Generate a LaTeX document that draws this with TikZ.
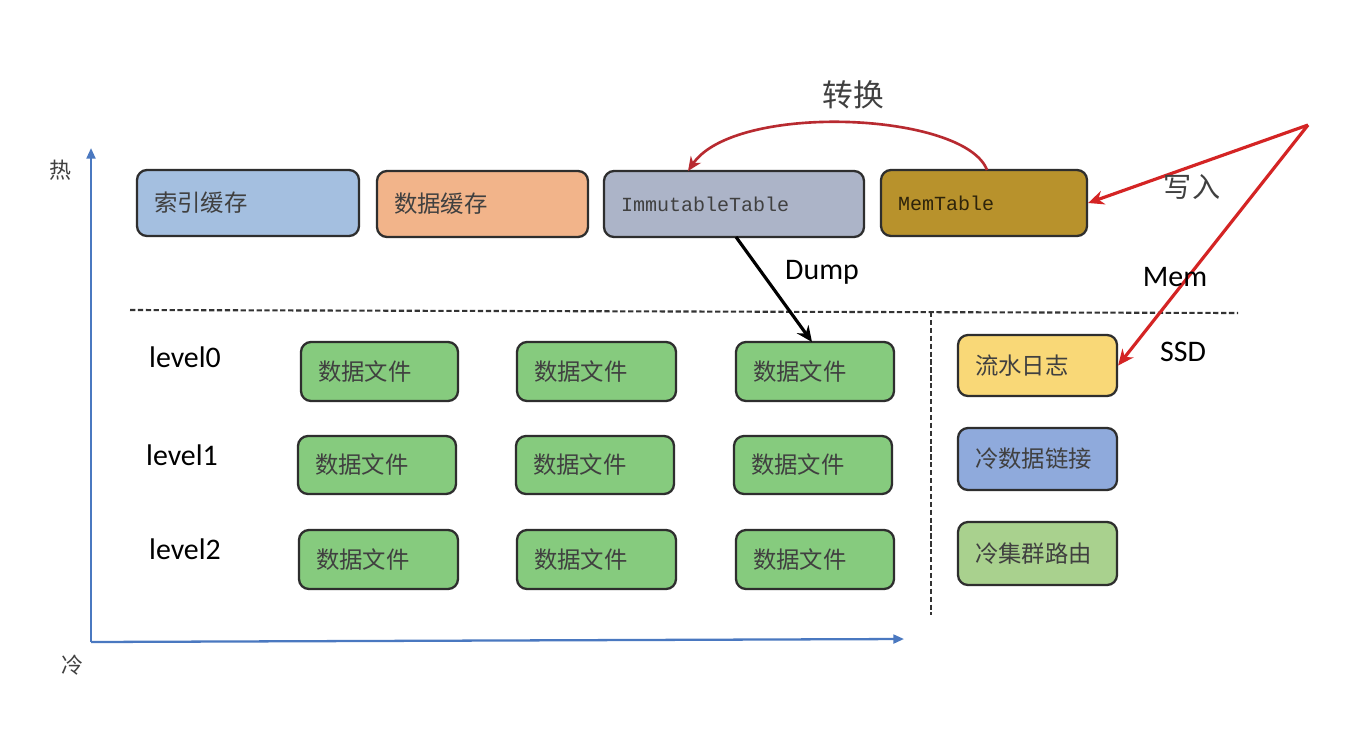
\documentclass[tikz,border=0pt]{standalone}
\usepackage{fontspec}
\newfontfamily\cjk{Noto Sans CJK SC}
\newfontfamily\calib{Carlito}
\newfontfamily\monof{Liberation Mono}
\usetikzlibrary{arrows.meta}
\definecolor{idxblue}{HTML}{A4BFE0}
\definecolor{dataorange}{HTML}{F2B48A}
\definecolor{immgray}{HTML}{ACB4C8}
\definecolor{memgold}{HTML}{B8922C}
\definecolor{filegreen}{HTML}{86CB7E}
\definecolor{logyellow}{HTML}{F9D877}
\definecolor{linkblue}{HTML}{8FAADC}
\definecolor{routegreen}{HTML}{A9D18E}
\definecolor{boxborder}{HTML}{2E2E2E}
\definecolor{axisblue}{HTML}{4A78C0}
\definecolor{arrowred}{HTML}{D42424}
\definecolor{curvered}{HTML}{B82A30}
\definecolor{txtgray}{HTML}{404040}
\newcommand\bx[8]{%
  \pgfmathsetmacro\bw{(#4-#2)*0.02}%
  \pgfmathsetmacro\bh{(#5-#3)*0.02}%
  \pgfmathsetmacro\tw{(#4-#2-34)*0.02}%
  \node[boxstyle, fill=#6, minimum width=\bw cm, minimum height=\bh cm, text width=\tw cm, #8] (#1) at ({(#2+#4)/2},{(#3+#5)/2}) {#7};}
\tikzset{
  boxstyle/.style={draw=boxborder, line width=1.3pt, rounded corners=0.2cm, inner xsep=0.34cm, inner ysep=0pt, align=left, text=txtgray, font=\cjk\fontsize{13.3}{16}\selectfont},
  monotext/.style={font=\monof\fontsize{11.4}{14}\selectfont},
  sanslabel/.style={font=\calib\fontsize{17}{20}\selectfont, text=black},
  cjklabel/.style={font=\cjk\fontsize{16}{19}\selectfont, text=txtgray},
  axislabel/.style={font=\cjk\fontsize{12.5}{15}\selectfont, text=txtgray},
  axisline/.style={draw=axisblue, line width=1.3pt, -{Triangle[length=6pt,width=5pt]}},
  redarrow/.style={draw=arrowred, line width=1.8pt, -{Stealth[length=9pt,width=8pt]}},
  sepline/.style={draw=black!80, line width=1.2pt, dash pattern=on 3pt off 1.5pt}
}
\begin{document}
\begin{tikzpicture}[x=0.02cm,y=-0.02cm]
\useasboundingbox (0,0) rectangle (1368,734);
\fill[white] (0,0) rectangle (1368,734);

% axes
\coordinate (origin) at (91,642);
\coordinate (ytop) at (91,148);
\coordinate (xend) at (904,639);
\draw[axisline] (origin) -- (ytop);
\draw[axisline] (origin) -- (xend);
\node[axislabel] (hot) at (60,170) {热};
\node[axislabel] (cold) at (72,665) {冷};

% separators
\coordinate (hsepL) at (130,310);
\coordinate (hsepR) at (1238,313);
\coordinate (vsepT) at (931,312);
\coordinate (vsepB) at (931,615);
\draw[sepline] (hsepL) -- (hsepR);
\draw[sepline] (vsepT) -- (vsepB);

% top boxes
\bx{idx}{137}{170}{359}{236}{idxblue}{索引缓存}{}
\bx{dcache}{377}{171}{588}{237}{dataorange}{数据缓存}{}
\bx{imm}{604}{171}{864}{237}{immgray}{ImmutableTable}{monotext}
\bx{mem}{881}{170}{1087}{236}{memgold}{MemTable}{monotext, text=black!75!memgold}

% level labels
\node[sanslabel] (l0) at (185,357) {level0};
\node[sanslabel] (l1) at (182,455) {level1};
\node[sanslabel] (l2) at (185,549) {level2};

% data files
\bx{f00}{301}{342}{458}{401}{filegreen}{数据文件}{}
\bx{f01}{517}{342}{676}{401}{filegreen}{数据文件}{}
\bx{f02}{736}{342}{894}{401}{filegreen}{数据文件}{}
\bx{f10}{298}{436}{456}{494}{filegreen}{数据文件}{}
\bx{f11}{516}{436}{674}{494}{filegreen}{数据文件}{}
\bx{f12}{734}{436}{892}{494}{filegreen}{数据文件}{}
\bx{f20}{299}{530}{458}{589}{filegreen}{数据文件}{}
\bx{f21}{517}{530}{676}{589}{filegreen}{数据文件}{}
\bx{f22}{736}{530}{894}{589}{filegreen}{数据文件}{}

% right boxes
\bx{log}{958}{335}{1117}{396}{logyellow}{流水日志}{}
\bx{clink}{958}{428}{1117}{490}{linkblue}{冷数据链接}{}
\bx{croute}{958}{522}{1117}{585}{routegreen}{冷集群路由}{}

% conversion curve
\coordinate (memtop) at (987,170);
\coordinate (immtop) at (688,171);
\draw[draw=curvered, line width=1.5pt, -{Stealth[length=8pt,width=7pt]}] (memtop) .. controls (965,112) and (735,102) .. (immtop);
\node[cjklabel, font=\cjk\fontsize{17.5}{20}\selectfont] (conv) at (853,95) {转换};

% dump arrow
\coordinate (immbot) at (736,237);
\coordinate (f02top) at (812,342);
\draw[draw=black, line width=1.8pt, -{Stealth[length=9pt,width=8pt]}] (immbot) -- (f02top);
\node[sanslabel] (dump) at (822,272) {Dump};

% write arrows
\coordinate (src) at (1308,125);
\draw[redarrow] (src) -- (mem.east);
\draw[redarrow] (src) -- (log.east);
\node[cjklabel] (write) at (1192,187) {写入};
\node[sanslabel] (memlbl) at (1175,277) {Mem};
\node[sanslabel] (ssd) at (1183,352) {SSD};
\end{tikzpicture}
\end{document}
